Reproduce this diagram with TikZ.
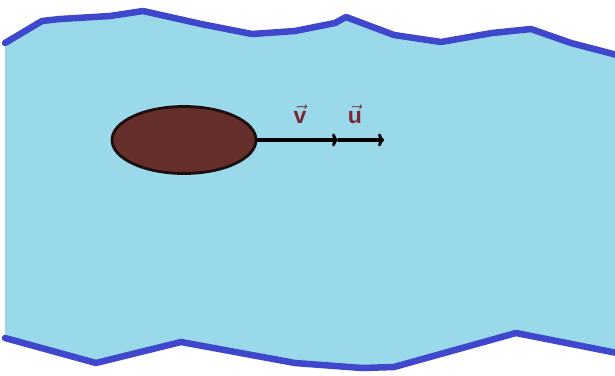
\documentclass[tikz,border=0pt]{standalone}
\usepackage{fontspec}
\setmainfont{Liberation Sans}
\usetikzlibrary{shapes.geometric,arrows.meta}
\begin{document}
\begin{tikzpicture}[x=1pt,y=-1pt,
  bank/.style={line width=6.5pt,draw=bankblue,line join=round,line cap=round},
  lbl/.style={text=lblred,font=\fontsize{23}{23}\selectfont\bfseries,inner sep=0pt},
  vec/.style={line width=3.8pt,-{To[length=6pt,width=13pt,line width=3pt]}}]
\definecolor{water}{HTML}{99D9EA}
\definecolor{bankblue}{HTML}{3F48CC}
\definecolor{brownfill}{HTML}{642E2A}
\definecolor{lblred}{HTML}{7A2838}
\useasboundingbox (0,0) rectangle (615,375);
\fill[white] (0,0) rectangle (615,375);
% water
\fill[water] (5,43) -- (42,21) -- (60,19) -- (110,16) -- (143,11) -- (201,24) -- (252,34) -- (295,31) -- (335,23) -- (346,17) -- (394,35) -- (441,42) -- (492,33) -- (531,29) -- (571,43) -- (615,55)
 -- (615,353) -- (516,333) -- (394,367) -- (362,368) -- (295,363) -- (181,342) -- (96,363) -- (5,338) -- cycle;
\draw[bank] (5,43) -- (42,21) -- (60,19) -- (110,16) -- (143,11) -- (201,24) -- (252,34) -- (295,31) -- (335,23) -- (346,17) -- (394,35) -- (441,42) -- (492,33) -- (531,29) -- (571,43) -- (617,55);
\draw[bank] (5,338) -- (96,363) -- (181,342) -- (295,363) -- (362,368) -- (394,367) -- (516,333) -- (617,353);
% object
\node[ellipse,draw=black!70!brownfill,line width=2.8pt,fill=brownfill,minimum width=144pt,minimum height=67pt,inner sep=0pt] (body) at (184,140) {};
\coordinate (vtip) at (338,140);
\coordinate (utip) at (384,140);
\draw[vec] (body.east) -- (vtip);
\draw[vec] (vtip) -- (utip);
\node[lbl] (vl) at (300,114) {$\vec{\textbf{v}}$};
\node[lbl] (ul) at (355,114) {$\vec{\textbf{u}}$};
\end{tikzpicture}
\end{document}
